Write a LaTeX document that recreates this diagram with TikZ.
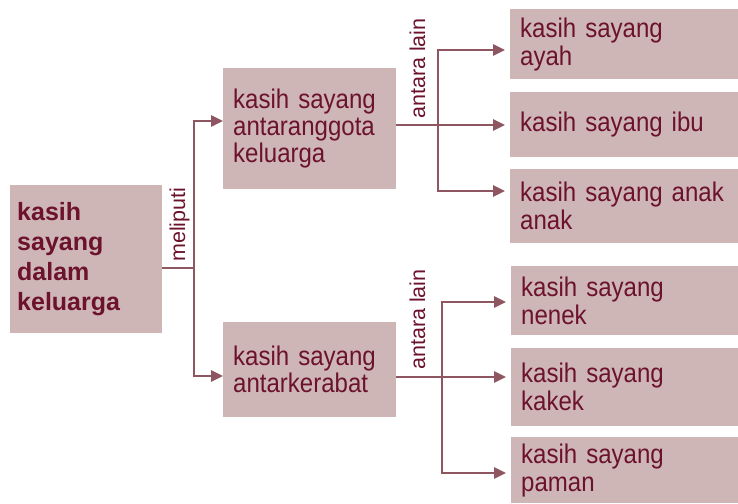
\documentclass[tikz,border=0pt]{standalone}
\usepackage{fontspec}
\setmainfont{Liberation Sans}
\newfontfamily\boxfont{Liberation Sans}[FakeStretch=0.89, WordSpace=1.3]
\usetikzlibrary{positioning}
\usetikzlibrary{arrows.meta}
\definecolor{boxfill}{RGB}{206,182,182}
\definecolor{boxtext}{RGB}{108,18,44}
\definecolor{linecol}{RGB}{142,86,96}

\begin{document}
\begin{tikzpicture}[x=1pt, y=-1pt,
		box/.style={fill=boxfill, text=boxtext, anchor=north west, align=left, inner xsep=10pt, inner ysep=0pt, font=\boxfont\fontsize{27}{28}\selectfont},
		link/.style={draw=linecol, line width=2.5pt},
		arr/.style={link, -{Triangle[length=12pt,width=11pt]}},
		leafarr/.style={arr, shorten >=5pt},
		lbl/.style={rotate=90, anchor=base west, inner sep=0pt, text=boxtext, font=\fontsize{21.5}{26}\selectfont}]
				\useasboundingbox (0,0) rectangle (738,503);
				\node[box, inner xsep=7pt, text width=138pt, minimum height=148pt, font=\bfseries\fontsize{25}{30}\selectfont] (root) at (10,185) {kasih\\sayang\\dalam\\keluarga};
				\node[box, text width=153pt, minimum height=121pt, font=\boxfont\fontsize{27}{27}\selectfont] (anggota) at (223,68) {kasih sayang\\antaranggota\\keluarga};
				\node[box, text width=153pt, minimum height=95pt, font=\boxfont\fontsize{27}{27}\selectfont] (kerabat) at (223,322) {kasih sayang\\antarkerabat};
				\node[box, text width=208pt, minimum height=70pt] (ayah) at (510,9) {kasih sayang\\ayah};
				\node[box, text width=208pt, minimum height=65pt] (ibu) at (510,92) {kasih sayang ibu};
				\node[box, text width=208pt, minimum height=74pt] (anak) at (510,169) {kasih sayang anak\\anak};
				\node[box, text width=207pt, minimum height=69pt] (nenek) at (511,266) {kasih sayang\\nenek};
				\node[box, text width=207pt, minimum height=78pt] (kakek) at (511,348) {kasih sayang\\kakek};
				\node[box, text width=207pt, minimum height=66pt] (paman) at (511,437) {kasih sayang\\paman};
				
				\coordinate (M) at (194,268);
				\coordinate (M1) at (194,121);
				\coordinate (M2) at (194,376);
				\draw[link] (root.east |- M) -- (M);
				\draw[arr] (M) |- (anggota.west |- M1);
				\draw[arr] (M) |- (kerabat.west |- M2);
				\node[lbl] (meliputi) at (185,262) {meliputi};
				
				\coordinate (A) at (438,125);
				\coordinate (A1) at (438,50);
				\coordinate (A3) at (438,191);
				\draw[link] (anggota.east |- A) -- (A);
				\draw[leafarr] (A) |- (ayah.west |- A1);
				\draw[leafarr] (A) -- (ibu.west |- A);
				\draw[leafarr] (A) |- (anak.west |- A3);
				\node[lbl] (lainA) at (425,119) {antara lain};
				
				\coordinate (K) at (442,377);
				\coordinate (K1) at (442,302);
				\coordinate (K3) at (442,473);
				\draw[link] (kerabat.east |- K) -- (K);
				\draw[leafarr] (K) |- (nenek.west |- K1);
				\draw[leafarr] (K) -- (kakek.west |- K);
				\draw[leafarr] (K) |- (paman.west |- K3);
				\node[lbl] (lainK) at (425,370) {antara lain};
			\end{tikzpicture}
\end{document}
